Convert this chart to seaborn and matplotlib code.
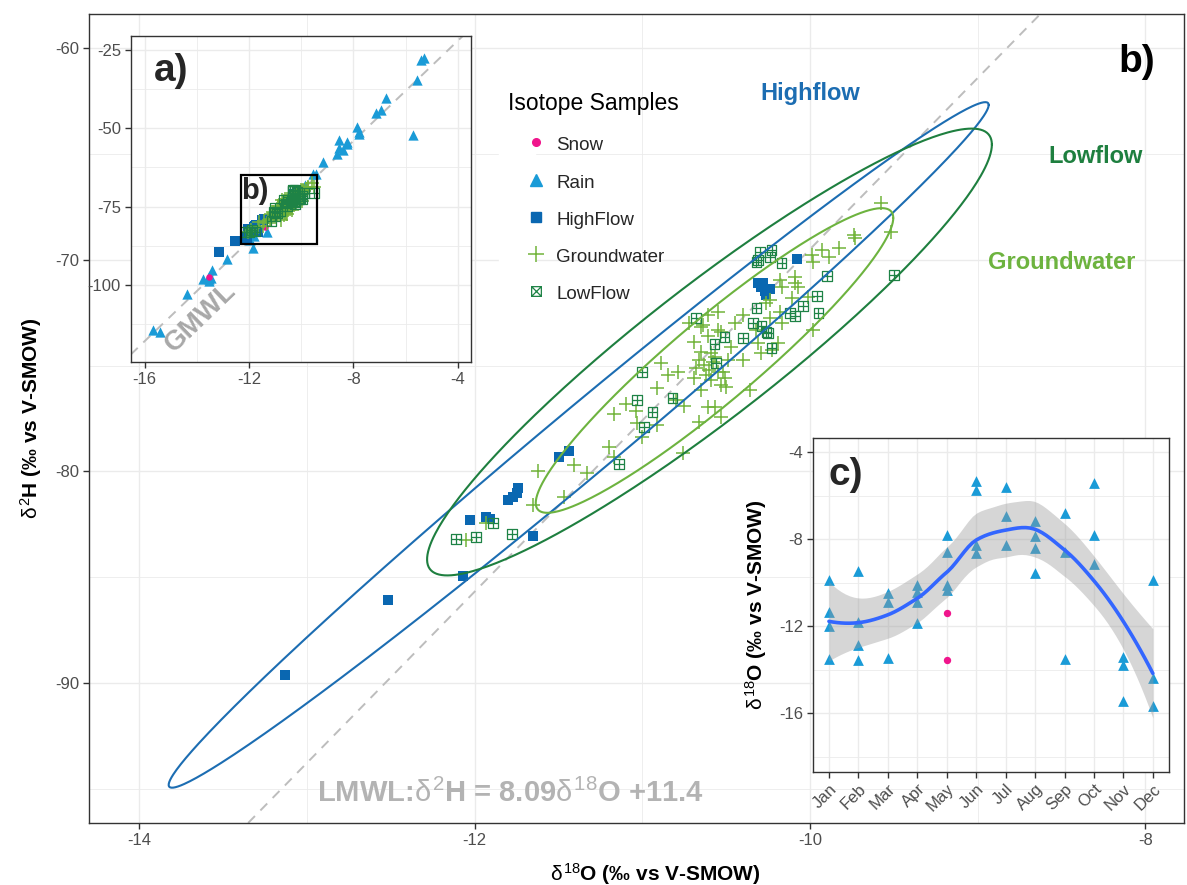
import numpy as np
import pandas as pd
import matplotlib
matplotlib.use("Agg")
import matplotlib.pyplot as plt
from matplotlib.path import Path
from matplotlib.lines import Line2D
from matplotlib.patches import Rectangle
from matplotlib.legend_handler import HandlerTuple
from matplotlib.ticker import MultipleLocator, FixedLocator
import seaborn as sns

sns.set_theme(style="whitegrid")
plt.rcParams["font.family"] = ["Liberation Sans", "DejaVu Sans"]
plt.rcParams["mathtext.fontset"] = "custom"
plt.rcParams["mathtext.rm"] = "Liberation Sans"
plt.rcParams["mathtext.it"] = "Liberation Sans"
plt.rcParams["mathtext.bf"] = "Liberation Sans:bold"
plt.rcParams["axes.unicode_minus"] = False

# ---------------------------------------------------------------- data
months = ["Jan", "Feb", "Mar", "Apr", "May", "Jun",
          "Jul", "Aug", "Sep", "Oct", "Nov", "Dec"]

snow_month = [5, 5]
snow_d18O = [-11.40, -13.55]
snow_d2H = [-81.5, -97.6]

rain_month = [1, 1, 1, 1, 2, 2, 2, 2, 3, 3, 3, 4, 4, 4, 4, 5, 5, 5, 5,
              6, 6, 6, 6, 7, 7, 7, 8, 8, 8, 8, 9, 9, 9, 10, 10, 10,
              11, 11, 11, 12, 12, 12]
rain_d18O = [-9.87, -11.33, -11.97, -13.52, -9.44, -11.79, -12.86, -13.55,
             -10.48, -10.87, -13.44, -10.10, -10.41, -10.87, -11.86,
             -7.80, -8.57, -10.10, -10.33, -5.30, -5.73, -8.26, -8.64,
             -5.58, -6.93, -8.26, -7.14, -7.85, -8.41, -9.56,
             -6.77, -8.57, -13.52, -5.40, -7.80, -9.15,
             -13.40, -13.78, -15.42, -9.87, -14.36, -15.67]
rain_d2H = [-68.0, -83.0, -85.6, -98.0, -64.5, -84.5, -91.8, -98.6,
            -73.5, -76.5, -97.9, -70.0, -72.5, -76.8, -88.3,
            -51.8, -56.4, -70.5, -72.0, -27.7, -52.1, -54.3, -58.3,
            -34.6, -44.1, -55.0, -45.2, -49.5, -57.0, -64.6,
            -40.4, -53.7, -97.0, -28.2, -51.2, -60.6,
            -95.2, -98.2, -114.9, -68.5, -103.0, -114.4]

highflow_d18O = [-13.13, -12.52, -12.07, -12.03, -11.93, -11.91, -11.80,
                 -11.77, -11.75, -11.74, -11.65, -11.50, -11.44,
                 -10.08, -10.31, -10.29, -10.27, -10.24, -10.26, -10.28]
highflow_d2H = [-89.62, -86.08, -84.94, -82.30, -82.15, -82.25, -81.35,
                -81.21, -81.02, -80.78, -83.05, -79.32, -79.04,
                -69.97, -71.10, -71.29, -71.48, -71.38, -71.67, -71.10]

lowflow_d18O = [-12.11, -11.99, -11.89, -11.78, -11.14, -10.99, -10.94,
                -11.03, -11.00, -10.82, -10.68, -10.57, -10.56,
                -10.30, -10.23, -10.31, -10.32, -10.24, -10.17, -9.90,
                -9.96, -10.04, -9.95, -10.12, -10.09, -10.32, -10.34,
                -10.29, -10.26, -10.25, -10.51, -10.40, -10.23, -9.50]
lowflow_d2H = [-83.19, -83.10, -82.44, -82.96, -79.65, -77.90, -77.19,
               -76.63, -75.30, -76.53, -72.75, -73.98, -74.88,
               -69.64, -69.54, -70.01, -70.11, -69.87, -70.16, -70.77,
               -71.71, -72.19, -72.52, -72.52, -72.66, -72.28, -72.99,
               -73.13, -73.42, -73.46, -73.65, -73.70, -74.17, -70.72]

gw_d18O = [-12.05, -11.93, -11.65, -11.62, -11.47, -11.41, -11.33, -11.20,
           -11.17, -11.17, -11.10, -11.04, -11.03, -11.00, -10.76, -10.91,
           -10.89, -10.85, -10.79, -10.80, -10.75, -10.69, -10.69, -10.65,
           -10.66, -10.61, -10.72, -10.64, -10.61, -10.55,
           -10.66, -10.63, -10.60, -10.58, -10.62, -10.55, -10.65, -10.59,
           -10.53, -10.68, -10.57, -10.50, -10.51, -10.57, -10.53, -10.49,
           -10.52, -10.59, -10.47, -10.40, -10.45, -10.53, -10.65, -10.55,
           -10.40, -10.32, -10.31, -10.19, -10.29, -10.24, -10.18, -10.24,
           -10.26, -10.11, -10.01, -10.17, -10.09, -10.09, -10.07, -10.18,
           -10.17, -9.99, -9.98, -9.93, -9.89, -9.83, -9.74, -9.73,
           -9.58, -9.52, -9.98, -10.23, -10.36, -10.91, -10.61]
gw_d2H = [-83.24, -82.44, -81.59, -79.98, -81.21, -79.70, -80.08, -78.85,
          -79.32, -77.29, -76.82, -77.15, -77.71, -78.38, -79.13, -76.06,
          -74.88, -75.45, -75.30, -76.63, -76.91, -73.89, -75.59, -76.16,
          -77.67, -76.96, -72.99, -73.08, -72.61, -73.32,
          -74.74, -74.97, -75.21, -74.83, -75.45, -75.30, -74.36, -75.68,
          -75.92, -75.12, -74.60, -76.01, -75.59, -76.96, -77.43, -74.74,
          -75.30, -74.41, -74.12, -74.74, -72.99, -73.42, -73.18, -72.47,
          -72.61, -73.32, -73.94, -73.94, -74.41, -72.75, -72.47, -71.90,
          -72.05, -71.81, -71.76, -72.99, -70.82, -71.10, -71.29, -70.96,
          -71.29, -69.78, -70.11, -69.54, -69.87, -69.45, -68.83, -68.97,
          -67.32, -68.69, -73.32, -74.27, -76.16, -77.81, -73.60]

# 95 % ellipse summaries: centre, offset to the point of vertical tangency,
# and half of the vertical chord through the centre
ellipse_names = ["Highflow", "Lowflow", "Groundwater"]
ellipse_cx = [-11.38, -10.60, -10.57]
ellipse_cy = [-78.75, -74.36, -74.76]
ellipse_reach_x = [2.445, 1.684, 1.066]
ellipse_reach_y = [16.06, 9.80, 6.73]
ellipse_half_h = [2.08, 3.92, 2.55]

gmwl_slope, gmwl_icpt = 8.0, 10.0
lmwl_slope, lmwl_icpt = 8.09, 11.4

# ---------------------------------------------------------------- styling
C_SNOW = "#F0158C"
C_RAIN = "#1A9BD7"
C_HIGH = "#0A67B1"
C_GW = "#72B43A"
C_LOW = "#1E8346"
ELL_COL = {"Highflow": "#1C6DB2", "Lowflow": "#1E7F3F", "Groundwater": "#6DB33F"}
GRID = "#EBEBEB"
FRAME = "#333333"
TICKLAB = "#4D4D4D"

sq_plus = Path([(-1, -1), (1, -1), (1, 1), (-1, 1), (-1, -1),
                (-1, 0), (1, 0), (0, -1), (0, 1)],
               [Path.MOVETO, Path.LINETO, Path.LINETO, Path.LINETO, Path.CLOSEPOLY,
                Path.MOVETO, Path.LINETO, Path.MOVETO, Path.LINETO])
sq_cross = Path([(-1, -1), (1, -1), (1, 1), (-1, 1), (-1, -1),
                 (-1, -1), (1, 1), (-1, 1), (1, -1)],
                [Path.MOVETO, Path.LINETO, Path.LINETO, Path.LINETO, Path.CLOSEPOLY,
                 Path.MOVETO, Path.LINETO, Path.MOVETO, Path.LINETO])

snow = pd.DataFrame({"month": snow_month, "d18O": snow_d18O, "d2H": snow_d2H})
rain = pd.DataFrame({"month": rain_month, "d18O": rain_d18O, "d2H": rain_d2H})
high = pd.DataFrame({"d18O": highflow_d18O, "d2H": highflow_d2H})
low = pd.DataFrame({"d18O": lowflow_d18O, "d2H": lowflow_d2H})
gw = pd.DataFrame({"d18O": gw_d18O, "d2H": gw_d2H})
precip = pd.concat([rain, snow], ignore_index=True)


def style_axes(a, size=12):
    a.set_facecolor("white")
    for s in a.spines.values():
        s.set_visible(True)
        s.set_color(FRAME)
        s.set_linewidth(1.0)
    a.grid(True, which="major", color=GRID, lw=1.0)
    a.grid(True, which="minor", color=GRID, lw=0.6)
    a.tick_params(which="major", direction="out", length=4, width=1,
                  color=FRAME, labelcolor=TICKLAB, labelsize=size, pad=3,
                  bottom=True, left=True)
    a.tick_params(which="minor", length=0, bottom=True, left=True)
    a.set_axisbelow(True)


def draw_samples(a, with_rain):
    if with_rain:
        sns.scatterplot(data=rain, x="d18O", y="d2H", ax=a, marker="^",
                        color=C_RAIN, s=55, linewidth=0, legend=False, zorder=3)
        sns.scatterplot(data=snow, x="d18O", y="d2H", ax=a, marker="o",
                        color=C_SNOW, s=22, linewidth=0, legend=False, zorder=3)
    sns.scatterplot(data=high, x="d18O", y="d2H", ax=a, marker="s",
                    color=C_HIGH, s=50, linewidth=0, legend=False, zorder=3)
    sns.scatterplot(data=gw, x="d18O", y="d2H", ax=a, marker="+",
                    color=C_GW, s=110, linewidth=1.1, legend=False, zorder=3)
    sns.scatterplot(data=low, x="d18O", y="d2H", ax=a, marker=sq_plus,
                    color=C_LOW, facecolors="none", edgecolor=C_LOW,
                    s=50, linewidth=0.9, legend=False, zorder=3)


def loess(x, y, grid, span=0.75):
    """Local quadratic smoother (tricube weights); the surface is built from
    exact fits at the distinct x values and joined with cubic Hermite pieces."""
    x = np.asarray(x, float)
    y = np.asarray(y, float)
    n = len(x)
    q = int(np.floor(n * span))

    def rows(x0):
        d = np.abs(x - x0)
        ds = np.sort(d)
        h = 0.5 * (ds[q - 1] + ds[q]) if q < n else ds[-1]
        w = np.clip(1 - (d / h) ** 3, 0, None) ** 3
        X = np.column_stack([np.ones(n), x - x0, (x - x0) ** 2])
        XtW = X.T * w
        A = np.linalg.solve(XtW @ X, XtW)
        return A[0], A[1]

    verts = np.unique(x)
    vrows = [rows(v) for v in verts]
    val_rows = np.array([r[0] for r in vrows])
    slope_rows = np.array([r[1] for r in vrows])

    def operator(g):
        k = np.clip(np.searchsorted(verts, g, side="right") - 1, 0, len(verts) - 2)
        x0, x1 = verts[k], verts[k + 1]
        hstep = x1 - x0
        s = (g - x0) / hstep
        h00 = 2 * s ** 3 - 3 * s ** 2 + 1
        h10 = s ** 3 - 2 * s ** 2 + s
        h01 = -2 * s ** 3 + 3 * s ** 2
        h11 = s ** 3 - s ** 2
        return (h00 * val_rows[k] + h10 * hstep * slope_rows[k]
                + h01 * val_rows[k + 1] + h11 * hstep * slope_rows[k + 1])

    L = np.array([operator(v) for v in x])
    R = np.eye(n) - L
    delta1 = np.trace(R.T @ R)
    resid = y - L @ y
    sigma = np.sqrt(resid @ resid / delta1)
    G = np.array([operator(v) for v in grid])
    fit = G @ y
    se = sigma * np.sqrt((G ** 2).sum(axis=1))
    return fit, se


# ---------------------------------------------------------------- figure
fig = plt.figure(figsize=(11.87, 8.85), dpi=100)

# main panel b)
ax = fig.add_axes([0.0750, 0.0701, 0.9225, 0.9141])
style_axes(ax)
ax.set_xlim(-14.30, -7.77)
ax.set_ylim(-96.61, -58.39)
ax.xaxis.set_major_locator(MultipleLocator(2))
ax.xaxis.set_minor_locator(MultipleLocator(1))
ax.yaxis.set_major_locator(MultipleLocator(10))
ax.yaxis.set_minor_locator(MultipleLocator(5))
ax.axline((0, lmwl_icpt), slope=lmwl_slope, color="#BDBDBD", lw=1.4,
          ls=(0, (5, 4)), zorder=2)
draw_samples(ax, with_rain=False)

t = np.linspace(0, 2 * np.pi, 400)
for name, cx, cy, rx, ry, hh in zip(ellipse_names, ellipse_cx, ellipse_cy,
                                     ellipse_reach_x, ellipse_reach_y, ellipse_half_h):
    ex = cx + rx * np.cos(t)
    ey = cy + ry * np.cos(t) + hh * np.sin(t)
    ax.plot(ex, ey, color=ELL_COL[name], lw=1.5, zorder=4)

ax.text(-10.0, -62.13, "Highflow", color=ELL_COL["Highflow"], fontsize=17,
        fontweight="bold", ha="center", va="center")
ax.text(-8.30, -65.10, "Lowflow", color=ELL_COL["Lowflow"], fontsize=17,
        fontweight="bold", ha="center", va="center")
ax.text(-8.50, -70.13, "Groundwater", color=ELL_COL["Groundwater"], fontsize=17,
        fontweight="bold", ha="center", va="center")
ax.text(-8.05, -60.66, "b)", color="black", fontsize=28, fontweight="bold",
        ha="center", va="center")
ax.text(-11.79, -95.2,
        r"LMWL:$\delta^{2}$H = " + f"{lmwl_slope:.2f}" + r"$\delta^{18}$O +" + f"{lmwl_icpt:.1f}",
        color="#B3B3B3", fontsize=21, fontweight="bold", ha="center", va="center")

ax.set_xlabel(r"$\delta^{18}$O (‰ vs V-SMOW)", fontsize=15, fontweight="bold",
              color="black")
ax.xaxis.set_label_coords(0.517, -0.0475)
ax.set_ylabel(r"$\delta^{2}$H (‰ vs V-SMOW)", fontsize=15, fontweight="bold",
              color="black")
ax.yaxis.set_label_coords(-0.0411, 0.5)

# legend with white key backgrounds
def key(m, col, ms, fill=True, mew=1.0):
    bg = Line2D([], [], marker="s", ms=26, ls="none", color="white", mec="white")
    fg = Line2D([], [], marker=m, ms=ms, ls="none", color=col, mec=col,
                mfc=col if fill else "none", mew=mew)
    return (bg, fg)

handles = [key("o", C_SNOW, 5.5), key("^", C_RAIN, 8), key("s", C_HIGH, 7),
           key("+", C_GW, 11, mew=1.1), key(sq_cross, C_LOW, 7, fill=False, mew=0.9)]
labels = ["Snow", "Rain", "HighFlow", "Groundwater", "LowFlow"]
leg = ax.legend(handles, labels, title="Isotope Samples", loc="upper left",
                bbox_to_anchor=(508 / 1187, 1 - 92 / 885),
                bbox_transform=fig.transFigure, frameon=False,
                handler_map={tuple: HandlerTuple(ndivide=None)},
                fontsize=13.5, title_fontsize=16.5, alignment="left",
                handlelength=1.97, handleheight=1.2, handletextpad=0.6,
                labelspacing=0.92, borderpad=0, borderaxespad=0)
leg._legend_box.sep = 14
leg.get_title().set_color("black")
leg.set_zorder(6)

# inset a)
axa = fig.add_axes([0.1101, 0.5910, 0.2867, 0.3684])
style_axes(axa)
axa.set_xlim(-16.53, -3.50)
axa.set_ylim(-124.6, -20.5)
axa.xaxis.set_major_locator(MultipleLocator(4))
axa.xaxis.set_minor_locator(MultipleLocator(2))
axa.yaxis.set_major_locator(FixedLocator([-25, -50, -75, -100]))
axa.yaxis.set_minor_locator(FixedLocator([-37.5, -62.5, -87.5, -112.5]))
axa.axline((0, gmwl_icpt), slope=gmwl_slope, color="#BDBDBD", lw=1.4,
           ls=(0, (5, 4)), zorder=2)
draw_samples(axa, with_rain=True)
axa.add_patch(Rectangle((-12.29, -86.9), 2.90, 22.0, fill=False,
                        edgecolor="black", lw=1.6, zorder=5))
axa.text(-11.76, -70.0, "b)", fontsize=21, fontweight="bold", ha="center",
         va="center", zorder=6)
axa.text(-15.0, -31.7, "a)", fontsize=28, fontweight="bold", ha="center",
         va="center")
axa.text(-13.86, -110.5, "GMWL", fontsize=20, fontweight="bold",
         color="#A8A8A8", rotation=44, ha="center", va="center")
axa.set_xlabel("")
axa.set_ylabel("")

# inset c)
axc = fig.add_axes([0.6847, 0.1280, 0.3002, 0.3771])
style_axes(axc)
axc.set_xlim(0.45, 12.55)
axc.set_ylim(-18.68, -3.34)
axc.xaxis.set_major_locator(FixedLocator(range(1, 13)))
axc.set_xticklabels(months, rotation=45, ha="right", rotation_mode="anchor")
axc.yaxis.set_major_locator(FixedLocator([-4, -8, -12, -16]))
axc.yaxis.set_minor_locator(FixedLocator([-6, -10, -14, -18]))
sns.scatterplot(data=rain, x="month", y="d18O", ax=axc, marker="^",
                color=C_RAIN, s=60, linewidth=0, legend=False, zorder=2)
sns.scatterplot(data=snow, x="month", y="d18O", ax=axc, marker="o",
                color=C_SNOW, s=28, linewidth=0, legend=False, zorder=2)
xs = np.linspace(1, 12, 80)
fit, se = loess(precip["month"], precip["d18O"], xs)
axc.fill_between(xs, fit - 2.03 * se, fit + 2.03 * se, color="#999999",
                 alpha=0.4, lw=0, zorder=3)
sns.lineplot(x=xs, y=fit, ax=axc, color="#3366FF", lw=2.6, zorder=4)
axc.text(1.56, -5.04, "c)", fontsize=28, fontweight="bold", ha="center",
         va="center")
axc.set_xlabel("")
axc.set_ylabel(r"$\delta^{18}$O (‰ vs V-SMOW)", fontsize=15, fontweight="bold",
               color="black")
axc.yaxis.set_label_coords(-0.1227, 0.5)

fig.savefig("out.png", dpi=100)
